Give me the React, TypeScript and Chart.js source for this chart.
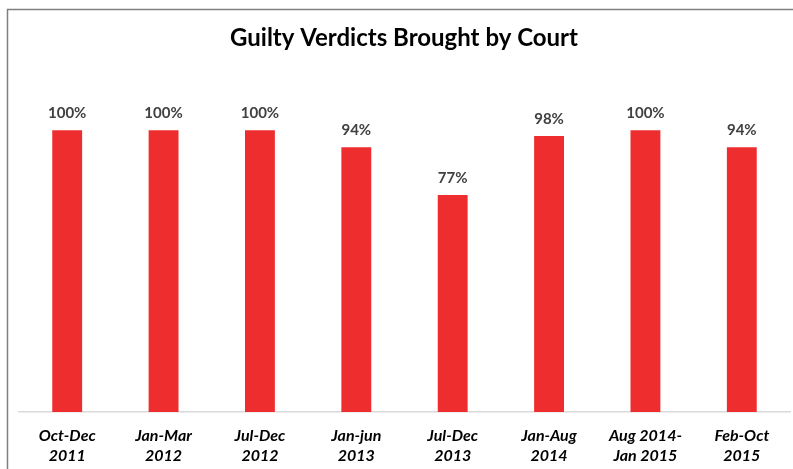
import React, { useEffect, useRef } from "react";
import { Chart, registerables } from "chart.js";

Chart.register(...registerables);

const TITLE = "Guilty Verdicts Brought by Court";
const CATEGORIES: string[][] = [
  ["Oct-Dec", "2011"],
  ["Jan-Mar", "2012"],
  ["Jul-Dec", "2012"],
  ["Jan-jun", "2013"],
  ["Jul-Dec", "2013"],
  ["Jan-Aug", "2014"],
  ["Aug 2014-", "Jan 2015"],
  ["Feb-Oct", "2015"],
];
const VALUES: number[] = [100, 100, 100, 94, 77, 98, 100, 94];

const FONT = "Lato, 'Open Sans', sans-serif";

export default function App() {
  const ref = useRef<HTMLCanvasElement | null>(null);

  useEffect(() => {
    if (!ref.current) return;
    const frame = {
      id: "frame",
      beforeDraw(chart: any) {
        const ctx = chart.ctx;
        ctx.save();
        ctx.fillStyle = "#ffffff";
        ctx.fillRect(0, 0, chart.width, chart.height);
        ctx.strokeStyle = "#7f7f7f";
        ctx.lineWidth = 1.5;
        ctx.strokeRect(7.5, 9.5, 900, 600);
        ctx.fillStyle = "#000000";
        ctx.font = `bold 24px ${FONT}`;
        ctx.textAlign = "center";
        ctx.textBaseline = "middle";
        ctx.fillText(TITLE, 404, 38);
        ctx.restore();
      },
      afterDatasetsDraw(chart: any) {
        const ctx = chart.ctx;
        const meta = chart.getDatasetMeta(0);
        ctx.save();
        ctx.fillStyle = "#404040";
        ctx.font = `bold 15px ${FONT}`;
        ctx.textAlign = "center";
        ctx.textBaseline = "alphabetic";
        meta.data.forEach((el: any, i: number) => {
          ctx.fillText(VALUES[i] + "%", el.x, el.y - 12);
        });
        ctx.restore();
      },
    };

    const chart = new Chart(ref.current, {
      type: "bar",
      data: {
        labels: CATEGORIES,
        datasets: [
          {
            data: VALUES,
            backgroundColor: "#EE2D2F",
            borderWidth: 0,
            categoryPercentage: 1,
            barPercentage: 0.31,
          },
        ],
      },
      options: {
        responsive: false,
        animation: false,
        devicePixelRatio: 1,
        layout: { padding: { left: 19, right: 3, top: 74, bottom: 0 } },
        plugins: {
          legend: { display: false },
          title: { display: false },
          tooltip: { enabled: false },
        },
        scales: {
          x: {
            grid: { display: false, drawTicks: false },
            border: { display: true, color: "#d9d9d9", width: 1.5 },
            afterFit: (scale: any) => {
              scale.height = 57;
            },
            ticks: {
              color: "#000000",
              font: { family: FONT, size: 16, weight: "bold", style: "italic", lineHeight: 1.25 },
              padding: 14,
              maxRotation: 0,
              autoSkip: false,
            },
          },
          y: {
            display: false,
            min: 0,
            max: 120,
          },
        },
      },
      plugins: [frame],
    });
    return () => chart.destroy();
  }, []);

  return (
    <div style={{ position: "fixed", left: 0, top: 0, width: 793, height: 469 }}>
      <canvas ref={ref} width={793} height={469} />
    </div>
  );
}
